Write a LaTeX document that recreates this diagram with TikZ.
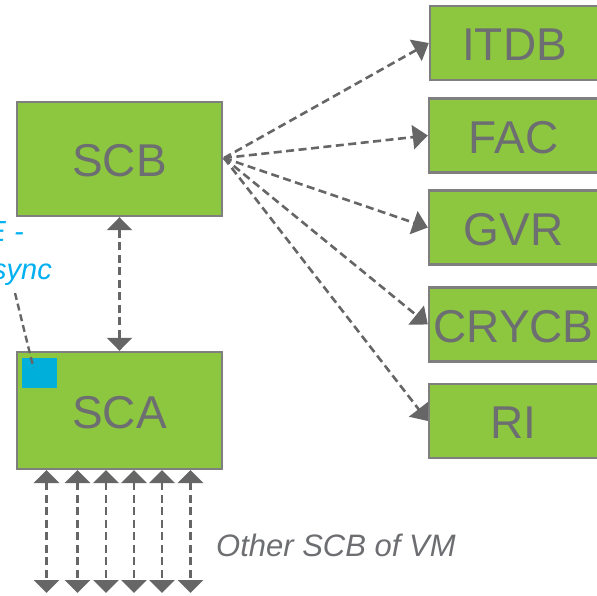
\documentclass[tikz,border=0pt]{standalone}
\usepackage{fontspec}
\setmainfont{Liberation Sans}
\usetikzlibrary{arrows.meta}

\definecolor{boxgreen}{HTML}{8DC63F}
\definecolor{boxedge}{HTML}{7F7F7F}
\definecolor{labelgray}{HTML}{6D6E71}
\definecolor{linkgray}{HTML}{666666}
\definecolor{portblue}{HTML}{00B0DA}
\definecolor{notecyan}{HTML}{00B0F0}

\tikzset{
  unit/.style={draw=boxedge, line width=2.4pt, fill=boxgreen, text=labelgray,
    inner sep=0pt, text height=35pt, text depth=0pt, font=\fontsize{46}{50}\selectfont},
  bigunit/.style={unit, minimum width=205pt},
  sideunit/.style={unit, minimum width=169pt, minimum height=74pt},
  link/.style={draw=linkgray, line width=2.6pt, dash pattern=on 8pt off 4.5pt},
  tip/.style={-{Triangle[length=15pt,width=24pt]}},
  twotip/.style={{Triangle[length=13pt,width=25pt]}-{Triangle[length=13pt,width=25pt]}},
  note/.style={text=notecyan, font=\fontsize{29}{34}\selectfont\itshape, inner sep=0pt}
}

\begin{document}
\begin{tikzpicture}[x=1pt, y=-1pt]
  \useasboundingbox (0,0) rectangle (597,595);

  % main units
  \node[bigunit, minimum height=114pt] (scb) at (119.5,159) {SCB};
  \node[bigunit, minimum height=117pt] (sca) at (119.5,410.5) {SCA};

  % port marker inside SCA
  \node[fill=portblue, minimum width=35pt, minimum height=30pt, inner sep=0pt] (port) at (39.5,373) {};

  % receiving units on the right
  \node[sideunit] (itdb)  at (514.5,43)  {ITDB};
  \node[sideunit] (fac)   at (513.5,135.5) {FAC};
  \node[sideunit] (gvr)   at (513.5,227.5) {GVR};
  \node[sideunit] (crycb) at (513.5,324.5) {CRYCB};
  \node[sideunit] (ri)    at (513.5,421) {RI};

  % fan-out from SCB
  \coordinate (hub) at (224,158);
  \foreach \t in {itdb,fac,gvr,crycb,ri}
    \draw[link, tip] (hub) -- (\t.west);

  % SCB <-> SCA
  \draw[link, twotip] (scb.south) -- (sca.north);

  % links to other SCBs
  \foreach \i/\x in {1/46.5,2/77.5,3/106,4/134,5/162,6/190.5} {
    \coordinate (top\i) at (\x,470);
    \coordinate (bot\i) at (\x,593);
    \draw[link, twotip] (top\i) -- (bot\i);
  }
  \node[text=labelgray, font=\fontsize{31}{34}\selectfont\itshape, anchor=west, inner sep=0pt]
    (others) at (216,545) {Other SCB of VM};

  % callout for the port
  \node[note, anchor=base east] (noteA) at (24,241) {E -};
  \node[note, anchor=base east] (noteB) at (52,279) {sync};
  \coordinate (callout) at (15,293);
  \coordinate (calloutend) at (33.5,368);
  \draw[link, line width=2.4pt, dash pattern=on 7pt off 4pt] (callout) -- (calloutend);
\end{tikzpicture}
\end{document}
